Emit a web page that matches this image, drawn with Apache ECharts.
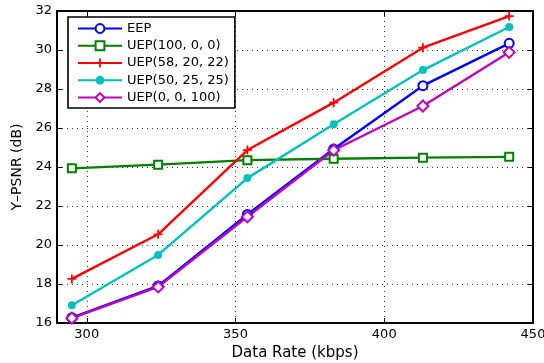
<!DOCTYPE html>
<html>
<head>
<meta charset="utf-8">
<script src="https://cdn.jsdelivr.net/npm/echarts@6/dist/echarts.min.js"></script>
<style>
  html, body { margin: 0; padding: 0; background: #fff; }
  #chart { width: 544px; height: 363px; }
</style>
</head>
<body>
<div id="chart"></div>
<script>
// Data rate (kbps) for each operating point
const rates = [295, 324, 354, 383, 413, 442];

// Y-PSNR (dB) per protection scheme
const eep      = [16.27, 17.90, 21.57, 24.92, 28.17, 30.34];
const uep100   = [23.93, 24.12, 24.35, 24.42, 24.48, 24.52];
const uep58    = [18.26, 20.55, 24.87, 27.30, 30.12, 31.74];
const uep50    = [16.91, 19.49, 23.43, 26.19, 28.97, 31.18];
const uep0     = [16.25, 17.85, 21.45, 24.86, 27.13, 29.88];

const seriesNames = ['EEP', 'UEP(100, 0, 0)', 'UEP(58, 20, 22)', 'UEP(50, 25, 25)', 'UEP(0, 0, 100)'];

// Axis ranges
const xRange = [290, 450];
const yRange = [16, 32];
const yStep = 2;

const FONT = 'DejaVu Sans';
const plusPath = 'path://M4,0H6V4H10V6H6V10H4V6H0V4H4Z';

function pairs(values) {
  return rates.map((r, i) => [r, values[i]]);
}

function lineSeries(name, values, color, symbol, size, filled) {
  return {
    name: name,
    type: 'line',
    data: pairs(values),
    symbol: symbol,
    symbolSize: size,
    showAllSymbol: true,
    lineStyle: { color: color, width: 2.4 },
    itemStyle: { color: color, borderColor: color, borderWidth: filled ? 0 : 2.2 },
    emphasis: { disabled: true },
    animation: false
  };
}

const dotted = { show: true, lineStyle: { color: '#333', width: 1, type: [1, 4] } };
const axisLine = { show: true, onZero: false, lineStyle: { color: '#000', width: 2 } };
const tickIn = { show: true, inside: true, length: 5, lineStyle: { color: '#000', width: 1 } };
const labelStyle = { color: '#000', fontFamily: FONT, fontSize: 13 };

const chart = echarts.init(document.getElementById('chart'), null, { renderer: 'canvas' });

chart.setOption({
  backgroundColor: '#fff',
  animation: false,
  grid: { left: 57, right: 11, top: 11, bottom: 40, containLabel: false, outerBoundsMode: 'none' },
  xAxis: [
    {
      type: 'value', min: xRange[0], max: xRange[1], splitNumber: 3,
      name: 'Data Rate (kbps)', nameLocation: 'middle', nameGap: 17,
      nameTextStyle: { color: '#000', fontFamily: FONT, fontSize: 15 },
      axisLine: axisLine, axisTick: tickIn,
      axisLabel: Object.assign({ margin: 5, showMinLabel: false,
        formatter: v => (v % 50 === 0 ? String(v) : '') }, labelStyle),
      splitLine: dotted
    },
    {
      type: 'value', min: xRange[0], max: xRange[1], splitNumber: 3, position: 'top',
      axisLine: axisLine, axisTick: tickIn, axisLabel: { show: false }, splitLine: { show: false }
    }
  ],
  yAxis: [
    {
      type: 'value', min: yRange[0], max: yRange[1], interval: yStep,
      name: 'Y\u2013PSNR (dB)', nameLocation: 'middle', nameGap: 28,
      nameTextStyle: { color: '#000', fontFamily: FONT, fontSize: 14 },
      axisLine: axisLine, axisTick: tickIn,
      axisLabel: Object.assign({ margin: 5 }, labelStyle),
      splitLine: dotted
    },
    {
      type: 'value', min: yRange[0], max: yRange[1], interval: yStep, position: 'right',
      axisLine: axisLine, axisTick: tickIn, axisLabel: { show: false }, splitLine: { show: false }
    }
  ],
  legend: {
    orient: 'vertical',
    left: 68, top: 17,
    padding: [5, 6, 4, 9],
    itemWidth: 44, itemHeight: 11, itemGap: 4.25,
    backgroundColor: '#fff',
    borderColor: '#000', borderWidth: 1.6,
    textStyle: { color: '#000', fontFamily: FONT, fontSize: 13 },
    selectedMode: false,
    data: seriesNames
  },
  series: [
    lineSeries(seriesNames[0], eep, '#0000FF', 'emptyCircle', 9, false),
    lineSeries(seriesNames[1], uep100, '#008000', 'emptyRect', 8, false),
    lineSeries(seriesNames[2], uep58, '#FF0000', plusPath, 9, true),
    lineSeries(seriesNames[3], uep50, '#00BFBF', 'circle', 8, true),
    lineSeries(seriesNames[4], uep0, '#BF00BF', 'emptyDiamond', 11, false)
  ]
});
</script>
</body>
</html>
